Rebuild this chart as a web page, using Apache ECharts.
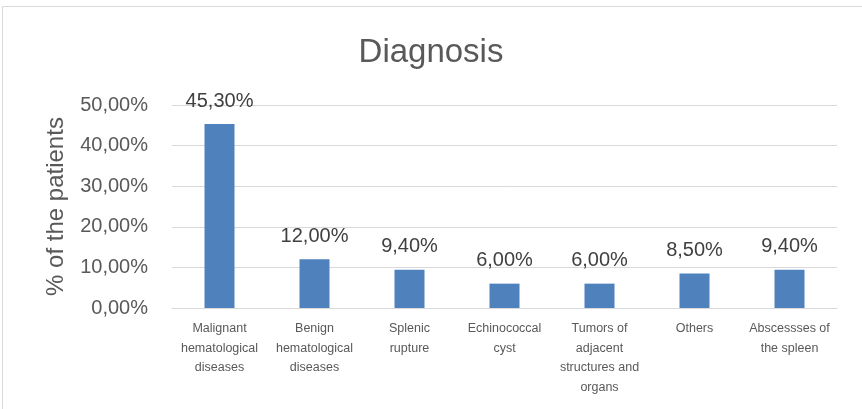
<!DOCTYPE html>
<html>
<head>
    <meta charset="utf-8"/>
    <title>Diagnosis</title>
    <script src="https://cdn.jsdelivr.net/npm/echarts@6/dist/echarts.min.js"></script>
    <style>
        html, body { margin: 0; padding: 0; background: #fff; }
        #main { width: 862px; height: 409px; }
    </style>
</head>
<body>
<div id="main"></div>
<script type="text/javascript">
    var categories = [
        'Malignant\nhematological\ndiseases',
        'Benign\nhematological\ndiseases',
        'Splenic\nrupture',
        'Echinococcal\ncyst',
        'Tumors of\nadjacent\nstructures and\norgans',
        'Others',
        'Abscessses of\nthe spleen'
    ];
    var percents = [45.3, 12.0, 9.4, 6.0, 6.0, 8.5, 9.4];
    var yTicks = [0, 10, 20, 30, 40, 50];

    function fmt(v) {
        return v.toFixed(2).replace('.', ',') + '%';
    }

    var font = 'Liberation Sans';
    var myChart = echarts.init(document.getElementById('main'));

    myChart.setOption({
        backgroundColor: '#fff',
        animation: false,
        title: {
            text: 'Diagnosis',
            left: 'center',
            top: 31,
            textStyle: { fontFamily: font, fontSize: 33, fontWeight: 'normal', color: '#595959' }
        },
        graphic: [{
            type: 'rect',
            shape: { x: 2.5, y: 6.5, width: 880, height: 420 },
            style: { fill: 'none', stroke: '#d9d9d9', lineWidth: 1 },
            silent: true
        }],
        grid: { left: 172, right: 25, top: 105, bottom: 101 },
        xAxis: {
            type: 'category',
            data: categories,
            axisLine: { lineStyle: { color: '#d9d9d9' } },
            axisTick: { show: false },
            axisLabel: {
                interval: 0,
                margin: 11,
                fontFamily: font,
                fontSize: 12.5,
                lineHeight: 19.5,
                color: '#595959'
            }
        },
        yAxis: {
            type: 'value',
            min: yTicks[0],
            max: yTicks[yTicks.length - 1],
            interval: 10,
            name: '% of the patients',
            nameLocation: 'middle',
            nameGap: 104,
            nameTextStyle: { fontFamily: font, fontSize: 24, color: '#595959' },
            axisLine: { show: false },
            axisTick: { show: false },
            splitLine: { lineStyle: { color: '#d9d9d9' } },
            axisLabel: {
                fontFamily: font,
                fontSize: 20,
                color: '#595959',
                margin: 24,
                formatter: function (v) { return fmt(v); }
            }
        },
        series: [{
            type: 'bar',
            data: percents,
            barWidth: 30,
            itemStyle: { color: '#4f81bd' },
            label: {
                show: true,
                position: 'top',
                distance: 13,
                fontFamily: font,
                fontSize: 20,
                color: '#404040',
                formatter: function (p) { return fmt(p.value); }
            }
        }]
    });
</script>
</body>
</html>
